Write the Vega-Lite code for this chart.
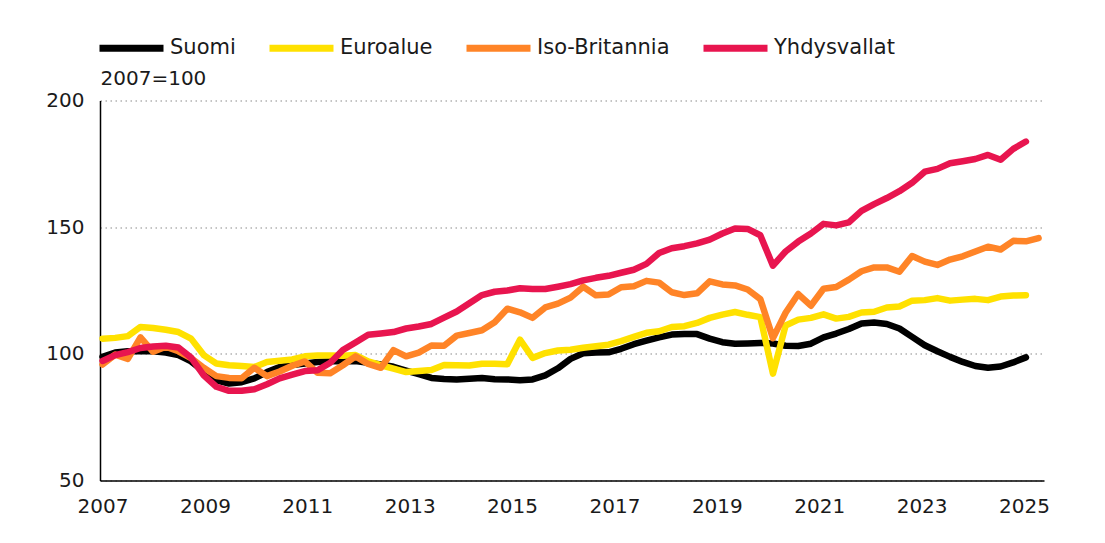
{
  "$schema": "https://vega.github.io/schema/vega-lite/v6.json",
  "width": 944,
  "height": 380,
  "autosize": {"type": "none"},
  "padding": {"left": 100, "top": 100.5, "right": 61, "bottom": 62.5},
  "background": "#ffffff",
  "config": {
    "font": "DejaVu Sans",
    "view": {"stroke": null},
    "axis": {"labelFont": "DejaVu Sans", "labelColor": "#1a1a1a", "titleColor": "#1a1a1a"}
  },
  "data": {
    "values": [
      {"aika": 2007.00, "Suomi": 98.8, "Euroalue": 106.0, "Iso-Britannia": 95.8, "Yhdysvallat": 97.2},
      {"aika": 2007.25, "Suomi": 100.5, "Euroalue": 106.3, "Iso-Britannia": 99.7, "Yhdysvallat": 99.5},
      {"aika": 2007.50, "Suomi": 101.0, "Euroalue": 107.0, "Iso-Britannia": 98.0, "Yhdysvallat": 100.7},
      {"aika": 2007.75, "Suomi": 101.0, "Euroalue": 110.6, "Iso-Britannia": 106.5, "Yhdysvallat": 102.3},
      {"aika": 2008.00, "Suomi": 101.0, "Euroalue": 110.2, "Iso-Britannia": 100.8, "Yhdysvallat": 102.9},
      {"aika": 2008.25, "Suomi": 100.5, "Euroalue": 109.5, "Iso-Britannia": 102.8, "Yhdysvallat": 103.2},
      {"aika": 2008.50, "Suomi": 99.5, "Euroalue": 108.6, "Iso-Britannia": 101.0, "Yhdysvallat": 102.5},
      {"aika": 2008.75, "Suomi": 97.0, "Euroalue": 106.0, "Iso-Britannia": 98.3, "Yhdysvallat": 98.5},
      {"aika": 2009.00, "Suomi": 93.0, "Euroalue": 99.5, "Iso-Britannia": 94.5, "Yhdysvallat": 91.5},
      {"aika": 2009.25, "Suomi": 89.5, "Euroalue": 96.2, "Iso-Britannia": 91.2, "Yhdysvallat": 87.0},
      {"aika": 2009.50, "Suomi": 88.3, "Euroalue": 95.5, "Iso-Britannia": 90.5, "Yhdysvallat": 85.4},
      {"aika": 2009.75, "Suomi": 88.8, "Euroalue": 95.2, "Iso-Britannia": 90.4, "Yhdysvallat": 85.4},
      {"aika": 2010.00, "Suomi": 90.3, "Euroalue": 94.8, "Iso-Britannia": 94.5, "Yhdysvallat": 86.0},
      {"aika": 2010.25, "Suomi": 92.8, "Euroalue": 96.8, "Iso-Britannia": 91.2, "Yhdysvallat": 88.0},
      {"aika": 2010.50, "Suomi": 94.8, "Euroalue": 97.3, "Iso-Britannia": 93.0, "Yhdysvallat": 90.3},
      {"aika": 2010.75, "Suomi": 95.6, "Euroalue": 97.8, "Iso-Britannia": 95.3, "Yhdysvallat": 91.8},
      {"aika": 2011.00, "Suomi": 96.2, "Euroalue": 99.0, "Iso-Britannia": 97.0, "Yhdysvallat": 93.2},
      {"aika": 2011.25, "Suomi": 96.8, "Euroalue": 99.3, "Iso-Britannia": 92.5, "Yhdysvallat": 93.5},
      {"aika": 2011.50, "Suomi": 97.1, "Euroalue": 99.3, "Iso-Britannia": 92.3, "Yhdysvallat": 96.5},
      {"aika": 2011.75, "Suomi": 97.1, "Euroalue": 99.2, "Iso-Britannia": 95.5, "Yhdysvallat": 101.5},
      {"aika": 2012.00, "Suomi": 97.2, "Euroalue": 99.5, "Iso-Britannia": 99.0, "Yhdysvallat": 104.5},
      {"aika": 2012.25, "Suomi": 96.5, "Euroalue": 97.0, "Iso-Britannia": 96.0, "Yhdysvallat": 107.5},
      {"aika": 2012.50, "Suomi": 95.8, "Euroalue": 95.5, "Iso-Britannia": 94.5, "Yhdysvallat": 108.0},
      {"aika": 2012.75, "Suomi": 94.9, "Euroalue": 94.2, "Iso-Britannia": 101.5, "Yhdysvallat": 108.6},
      {"aika": 2013.00, "Suomi": 93.4, "Euroalue": 92.8, "Iso-Britannia": 99.0, "Yhdysvallat": 110.0},
      {"aika": 2013.25, "Suomi": 92.0, "Euroalue": 93.2, "Iso-Britannia": 100.5, "Yhdysvallat": 110.8},
      {"aika": 2013.50, "Suomi": 90.5, "Euroalue": 93.6, "Iso-Britannia": 103.3, "Yhdysvallat": 111.8},
      {"aika": 2013.75, "Suomi": 90.1, "Euroalue": 95.6, "Iso-Britannia": 103.2, "Yhdysvallat": 114.3},
      {"aika": 2014.00, "Suomi": 89.9, "Euroalue": 95.5, "Iso-Britannia": 107.2, "Yhdysvallat": 116.7},
      {"aika": 2014.25, "Suomi": 90.2, "Euroalue": 95.4, "Iso-Britannia": 108.2, "Yhdysvallat": 120.0},
      {"aika": 2014.50, "Suomi": 90.5, "Euroalue": 96.1, "Iso-Britannia": 109.3, "Yhdysvallat": 123.2},
      {"aika": 2014.75, "Suomi": 90.0, "Euroalue": 96.1, "Iso-Britannia": 112.5, "Yhdysvallat": 124.5},
      {"aika": 2015.00, "Suomi": 89.9, "Euroalue": 95.9, "Iso-Britannia": 117.8, "Yhdysvallat": 125.0},
      {"aika": 2015.25, "Suomi": 89.6, "Euroalue": 105.6, "Iso-Britannia": 116.4, "Yhdysvallat": 125.9},
      {"aika": 2015.50, "Suomi": 89.9, "Euroalue": 98.4, "Iso-Britannia": 114.2, "Yhdysvallat": 125.6},
      {"aika": 2015.75, "Suomi": 91.5, "Euroalue": 100.3, "Iso-Britannia": 118.3, "Yhdysvallat": 125.6},
      {"aika": 2016.00, "Suomi": 94.3, "Euroalue": 101.3, "Iso-Britannia": 119.8, "Yhdysvallat": 126.5},
      {"aika": 2016.25, "Suomi": 98.0, "Euroalue": 101.6, "Iso-Britannia": 122.2, "Yhdysvallat": 127.5},
      {"aika": 2016.50, "Suomi": 100.2, "Euroalue": 102.4, "Iso-Britannia": 126.5, "Yhdysvallat": 129.0},
      {"aika": 2016.75, "Suomi": 100.5, "Euroalue": 103.0, "Iso-Britannia": 123.1, "Yhdysvallat": 130.0},
      {"aika": 2017.00, "Suomi": 100.6, "Euroalue": 103.6, "Iso-Britannia": 123.4, "Yhdysvallat": 130.8},
      {"aika": 2017.25, "Suomi": 102.0, "Euroalue": 105.0, "Iso-Britannia": 126.3, "Yhdysvallat": 132.0},
      {"aika": 2017.50, "Suomi": 103.8, "Euroalue": 106.7, "Iso-Britannia": 126.7, "Yhdysvallat": 133.2},
      {"aika": 2017.75, "Suomi": 105.2, "Euroalue": 108.3, "Iso-Britannia": 128.8, "Yhdysvallat": 135.5},
      {"aika": 2018.00, "Suomi": 106.5, "Euroalue": 108.9, "Iso-Britannia": 128.1, "Yhdysvallat": 139.8},
      {"aika": 2018.25, "Suomi": 107.6, "Euroalue": 110.6, "Iso-Britannia": 124.3, "Yhdysvallat": 141.7},
      {"aika": 2018.50, "Suomi": 107.8, "Euroalue": 110.9, "Iso-Britannia": 123.2, "Yhdysvallat": 142.5},
      {"aika": 2018.75, "Suomi": 107.8, "Euroalue": 112.2, "Iso-Britannia": 123.9, "Yhdysvallat": 143.6},
      {"aika": 2019.00, "Suomi": 106.0, "Euroalue": 114.2, "Iso-Britannia": 128.6, "Yhdysvallat": 145.1},
      {"aika": 2019.25, "Suomi": 104.6, "Euroalue": 115.5, "Iso-Britannia": 127.4, "Yhdysvallat": 147.5},
      {"aika": 2019.50, "Suomi": 104.0, "Euroalue": 116.5, "Iso-Britannia": 127.0, "Yhdysvallat": 149.5},
      {"aika": 2019.75, "Suomi": 104.1, "Euroalue": 115.4, "Iso-Britannia": 125.4, "Yhdysvallat": 149.3},
      {"aika": 2020.00, "Suomi": 104.3, "Euroalue": 114.5, "Iso-Britannia": 121.6, "Yhdysvallat": 146.8},
      {"aika": 2020.25, "Suomi": 104.1, "Euroalue": 92.2, "Iso-Britannia": 106.2, "Yhdysvallat": 134.8},
      {"aika": 2020.50, "Suomi": 103.2, "Euroalue": 111.2, "Iso-Britannia": 116.2, "Yhdysvallat": 140.4},
      {"aika": 2020.75, "Suomi": 103.1, "Euroalue": 113.5, "Iso-Britannia": 123.6, "Yhdysvallat": 144.3},
      {"aika": 2021.00, "Suomi": 104.0, "Euroalue": 114.2, "Iso-Britannia": 119.0, "Yhdysvallat": 147.5},
      {"aika": 2021.25, "Suomi": 106.5, "Euroalue": 115.6, "Iso-Britannia": 125.7, "Yhdysvallat": 151.3},
      {"aika": 2021.50, "Suomi": 108.0, "Euroalue": 113.9, "Iso-Britannia": 126.4, "Yhdysvallat": 150.7},
      {"aika": 2021.75, "Suomi": 109.8, "Euroalue": 114.6, "Iso-Britannia": 129.3, "Yhdysvallat": 151.9},
      {"aika": 2022.00, "Suomi": 112.0, "Euroalue": 116.3, "Iso-Britannia": 132.6, "Yhdysvallat": 156.4},
      {"aika": 2022.25, "Suomi": 112.4, "Euroalue": 116.6, "Iso-Britannia": 134.1, "Yhdysvallat": 159.1},
      {"aika": 2022.50, "Suomi": 111.8, "Euroalue": 118.3, "Iso-Britannia": 134.1, "Yhdysvallat": 161.5},
      {"aika": 2022.75, "Suomi": 110.0, "Euroalue": 118.7, "Iso-Britannia": 132.4, "Yhdysvallat": 164.2},
      {"aika": 2023.00, "Suomi": 106.7, "Euroalue": 121.0, "Iso-Britannia": 138.6, "Yhdysvallat": 167.5},
      {"aika": 2023.25, "Suomi": 103.4, "Euroalue": 121.2, "Iso-Britannia": 136.4, "Yhdysvallat": 171.9},
      {"aika": 2023.50, "Suomi": 101.0, "Euroalue": 122.0, "Iso-Britannia": 135.1, "Yhdysvallat": 173.0},
      {"aika": 2023.75, "Suomi": 98.8, "Euroalue": 121.0, "Iso-Britannia": 137.2, "Yhdysvallat": 175.2},
      {"aika": 2024.00, "Suomi": 96.8, "Euroalue": 121.4, "Iso-Britannia": 138.5, "Yhdysvallat": 176.0},
      {"aika": 2024.25, "Suomi": 95.2, "Euroalue": 121.7, "Iso-Britannia": 140.4, "Yhdysvallat": 176.9},
      {"aika": 2024.50, "Suomi": 94.5, "Euroalue": 121.2, "Iso-Britannia": 142.3, "Yhdysvallat": 178.5},
      {"aika": 2024.75, "Suomi": 95.0, "Euroalue": 122.6, "Iso-Britannia": 141.2, "Yhdysvallat": 176.6},
      {"aika": 2025.00, "Suomi": 96.6, "Euroalue": 123.0, "Iso-Britannia": 144.6, "Yhdysvallat": 180.9},
      {"aika": 2025.25, "Suomi": 98.6, "Euroalue": 123.1, "Iso-Britannia": 144.4, "Yhdysvallat": 183.8},
      {"aika": 2025.50, "Iso-Britannia": 145.7}
    ]
  },
  "transform": [
    {"fold": ["Suomi", "Euroalue", "Iso-Britannia", "Yhdysvallat"], "as": ["maa", "indeksi"]}
  ],
  "mark": {"type": "line", "strokeWidth": 6.5, "strokeCap": "round", "strokeJoin": "round"},
  "encoding": {
    "x": {
      "field": "aika",
      "type": "quantitative",
      "scale": {"domain": [2006.95, 2025.607], "nice": false, "zero": false},
      "axis": {
        "values": [2007, 2009, 2011, 2013, 2015, 2017, 2019, 2021, 2023, 2025],
        "format": "d",
        "title": null,
        "grid": false,
        "ticks": false,
        "domainColor": "#000000",
        "domainWidth": 1.5,
        "labelFontSize": 20,
        "labelPadding": 16,
        "labelOffset": {"expr": "(datum.value - 2007) * 0.595"}
      }
    },
    "y": {
      "field": "indeksi",
      "type": "quantitative",
      "scale": {"domain": [50, 200], "nice": false, "zero": false},
      "axis": {
        "values": [50, 100, 150, 200],
        "title": "2007=100",
        "titleAngle": 0,
        "titleAlign": "left",
        "titleBaseline": "alphabetic",
        "titleX": 0,
        "titleY": -16.5,
        "titleFontSize": 20,
        "titleFontWeight": "normal",
        "titleFont": "DejaVu Sans",
        "grid": true,
        "gridColor": "#8a8a8a",
        "gridDash": [1.5, 3.5],
        "gridWidth": 1.2,
        "ticks": false,
        "domainColor": "#000000",
        "domainWidth": 1.5,
        "labelFontSize": 20,
        "labelPadding": 16
      }
    },
    "color": {
      "field": "maa",
      "type": "nominal",
      "scale": {
        "domain": ["Suomi", "Euroalue", "Iso-Britannia", "Yhdysvallat"],
        "range": ["#000000", "#FFE100", "#FF8427", "#E8154F"]
      },
      "legend": {
        "title": null,
        "orient": "none",
        "direction": "horizontal",
        "legendX": -4,
        "legendY": -88,
        "symbolType": "stroke",
        "symbolSize": 4096,
        "symbolStrokeWidth": 7,
        "labelFontSize": 21,
        "labelFont": "DejaVu Sans",
        "labelColor": "#1a1a1a",
        "labelOffset": 3,
        "columnPadding": 19,
        "padding": 0
      }
    }
  }
}
